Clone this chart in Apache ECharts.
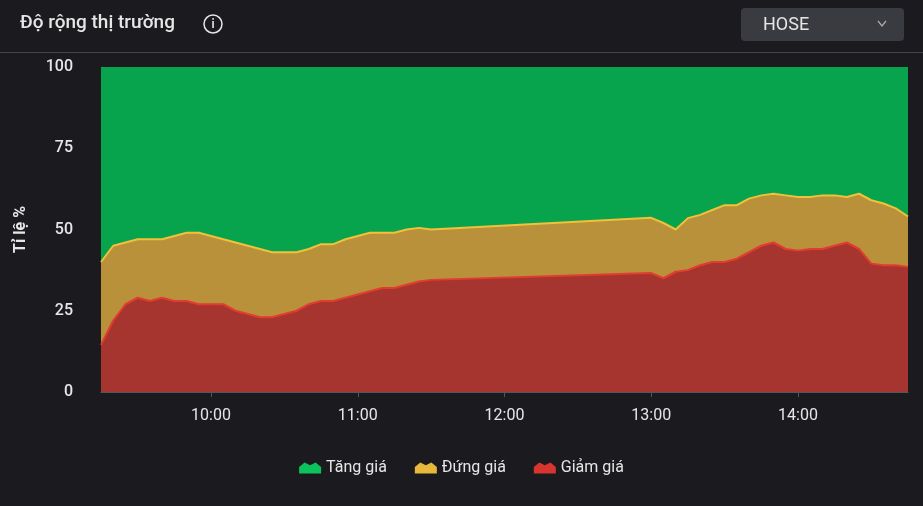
<!DOCTYPE html>
<html>
<head>
<meta charset="utf-8">
<script src="https://cdn.jsdelivr.net/npm/echarts@6/dist/echarts.min.js"></script>
<style>
  html, body { margin: 0; padding: 0; background: #1b1b1f; }
  #chart { width: 923px; height: 506px; }
</style>
</head>
<body>
<div id="chart"></div>
<script>
// thời gian theo phút từ 0h (9:15 -> 11:30, 13:00 -> 14:45, mỗi 5 phút)
const times = [
  555, 560, 565, 570, 575, 580, 585, 590, 595, 600, 605, 610, 615, 620,
  625, 630, 635, 640, 645, 650, 655, 660, 665, 670, 675, 680, 685, 690,
  780, 785, 790, 795, 800, 805, 810, 815, 820, 825, 830, 835, 840, 845,
  850, 855, 860, 865, 870, 875, 880, 885
]
const giam = [
  14.5, 22, 27, 29, 28, 29, 28, 28, 27, 27, 27, 25, 24, 23,
  23, 24, 25, 27, 28, 28, 29, 30, 31, 32, 32, 33, 34, 34.5,
  36.6, 35, 37, 37.5, 39, 40, 40, 41, 43, 45, 46, 44, 43.5, 44,
  44, 45, 46, 44, 39.5, 39, 39, 38.5
]
const dung = [
  25.5, 23, 19, 18, 19, 18, 20, 21, 22, 21, 20, 21, 21, 21,
  20, 19, 18, 17, 17.5, 17.5, 18, 18, 18, 17, 17, 17, 16.5, 15.5,
  17, 17, 13, 16, 15.5, 16, 17.5, 16.5, 16.5, 15.5, 15, 16.5, 16.5, 16,
  16.5, 15.5, 14, 17, 19.5, 19, 17.5, 15.5
]
const hourTicks = [600, 660, 720, 780, 840]

// cộng dồn thủ công (giảm ở dưới, đứng ở giữa, tăng lên tới 100)
const pair = arr => arr.map((v, i) => [times[i], v])
const giamTop = giam
const dungTop = giam.map((g, i) => +(g + dung[i]).toFixed(1))
const tangTop = times.map(() => 100)
const fmt = m => String(Math.floor(m / 60)).padStart(2, '0') + ':' + String(m % 60).padStart(2, '0')

const chart = echarts.init(document.getElementById('chart'))
const font = 'Roboto, "Noto Sans", sans-serif'
const icon = 'path://M0,5 L6,0 L12,3 L18,0 L24,5 L24,12 L0,12 Z'

const option = {
  backgroundColor: '#1b1b1f',
  animation: false,
  textStyle: { fontFamily: font },
  graphic: [
    { type: 'text', left: 20, top: 14, style: { text: 'Độ rộng thị trường', fill: '#e6e6e6', font: '500 19px ' + font } },
    { type: 'circle', shape: { cx: 213, cy: 24, r: 9 }, style: { fill: 'none', stroke: '#e6e6e6', lineWidth: 1.5 } },
    { type: 'text', x: 213, y: 25, style: { text: 'i', fill: '#e6e6e6', font: '600 12px ' + font, align: 'center', verticalAlign: 'middle' } },
    { type: 'rect', shape: { x: 741, y: 8, width: 163, height: 33, r: 4 }, style: { fill: '#3a3b40' } },
    { type: 'text', x: 763, y: 25, style: { text: 'HOSE', fill: '#e6e6e6', font: '18px ' + font, verticalAlign: 'middle' } },
    { type: 'polyline', shape: { points: [[878, 21], [882, 26], [886, 21]] }, style: { stroke: '#aaa', lineWidth: 1.3, fill: 'none' } },
    { type: 'rect', shape: { x: 0, y: 52, width: 923, height: 1 }, style: { fill: '#44454a' } }
  ],
  legend: {
    bottom: 25,
    left: 'center',
    itemGap: 28,
    itemWidth: 22,
    itemHeight: 12,
    icon: icon,
    data: ['Tăng giá', 'Đứng giá', 'Giảm giá'],
    textStyle: { color: '#e6e6e6', fontSize: 16 }
  },
  grid: { left: 101, right: 15, top: 67, bottom: 114 },
  xAxis: {
    type: 'value',
    min: 555,
    max: 885,
    splitLine: { show: false },
    axisLine: { lineStyle: { color: '#55565c' } },
    axisTick: { show: true, customValues: hourTicks, lineStyle: { color: '#55565c' } },
    axisLabel: { customValues: hourTicks, formatter: fmt, color: '#e6e6e6', fontSize: 16, margin: 16 }
  },
  yAxis: {
    type: 'value',
    min: 0,
    max: 100,
    interval: 25,
    name: 'Tỉ lệ %',
    nameLocation: 'middle',
    nameGap: 72,
    nameRotate: 90,
    nameTextStyle: { color: '#e6e6e6', fontSize: 16, fontWeight: 'bold' },
    splitLine: { show: false },
    axisLine: { show: false },
    axisTick: { show: false },
    axisLabel: { color: '#e6e6e6', fontSize: 16, fontWeight: 500, margin: 28 }
  },
  series: [
    {
      name: 'Tăng giá', type: 'line', showSymbol: false, symbol: 'none',
      data: pair(tangTop), color: '#0cc25c', z: 1,
      lineStyle: { width: 0 },
      areaStyle: { color: '#08a44d', opacity: 1 }
    },
    {
      name: 'Đứng giá', type: 'line', showSymbol: false, symbol: 'none',
      data: pair(dungTop), color: '#e8b83a', z: 2,
      lineStyle: { width: 2, color: '#f2c13a' },
      areaStyle: { color: '#b8913a', opacity: 1 }
    },
    {
      name: 'Giảm giá', type: 'line', showSymbol: false, symbol: 'none',
      data: pair(giamTop), color: '#d8352e', z: 3,
      lineStyle: { width: 2, color: '#e23b2f' },
      areaStyle: { color: '#a63530', opacity: 1 }
    }
  ]
}
chart.setOption(option)
</script>
</body>
</html>
